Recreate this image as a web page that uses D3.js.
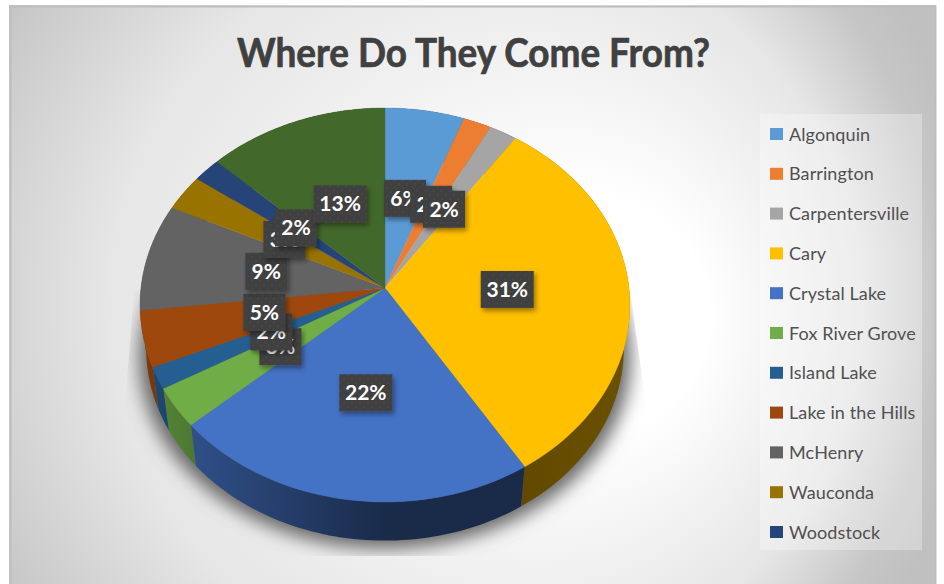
<!DOCTYPE html>
<html><head><meta charset="utf-8">
<script src="https://cdnjs.cloudflare.com/ajax/libs/d3/7.8.5/d3.min.js"></script>
<style>html,body{margin:0;padding:0;background:#fff}svg{display:block}text{font-family:Lato,sans-serif}</style>
</head><body><svg id="c" width="944" height="584"></svg>
<script>
const titleText = "Where Do They Come From?";
const categories = ["Algonquin","Barrington","Carpentersville","Cary","Crystal Lake","Fox River Grove","Island Lake","Lake in the Hills","McHenry","Wauconda","Woodstock","Other"];
const shares = [5.7,2,2,31.4,22.4,3.3,1.8,4.6,8.8,3,2,13];
const colors = ["#5b9bd5","#ed7d31","#a5a5a5","#ffc000","#4472c4","#70ad47","#255e91","#9e480e","#636363","#997300","#264478","#43682b"];
const legendCount = 11;

const svg = d3.select("#c"), defs = svg.append("defs");
const bg = defs.append("radialGradient").attr("id","bg").attr("gradientUnits","userSpaceOnUse")
  .attr("cx",400).attr("cy",300).attr("r",580).attr("fx",640).attr("fy",320);
[[0,"#ffffff"],[.2,"#ffffff"],[.5,"#eeeeee"],[.65,"#e6e6e6"],[.88,"#c6c6c6"],[1,"#c0c0c0"]]
  .forEach(([o,c])=>bg.append("stop").attr("offset",o).attr("stop-color",c));
svg.append("rect").attr("x",9).attr("y",5).attr("width",927).attr("height",579).attr("fill","url(#bg)");
svg.append("path").attr("d","M10.5,584V6.5H935.5V584").attr("fill","none").attr("stroke","#bdbdbd").attr("stroke-width",2);

// perspective projection of the pie disc
const cx=385, cy=288, A=195.5, B=244, k=0.0863, S=0.975, D=44;
const project=(a,f=1)=>{const X=Math.sin(a),Y=Math.cos(a),w=1+k*Y;return [cx+f*B*X/w, cy-f*A*Y/w];};
const lower=([x,y])=>[cx+(x-cx)*S, cy+(y-cy)*S+D];

const pie=d3.pie().sort(null).value(d=>d)(shares);
const samples=(d)=>d3.range(0,61).map(i=>d.startAngle+(d.endAngle-d.startAngle)*i/60);
const line=d3.line();

// shadow
defs.append("filter").attr("id","blur").attr("x","-20%").attr("y","-20%").attr("width","140%").attr("height","140%")
  .append("feGaussianBlur").attr("stdDeviation",9);
defs.append("clipPath").attr("id","shClip").append("path")
  .attr("d","M134,290L124,420V556H660V430L646,405L630,290Z");
svg.append("g").attr("clip-path","url(#shClip)")
  .append("path").attr("filter","url(#blur)").attr("fill","#666666")
  .attr("d",line(d3.range(0,121).map(i=>{const [x,y]=lower(project(i/120*2*Math.PI));return [cx+(x-cx)*1.03,y+8];}))+"Z");

// side walls
const stopsX=[140,190,385,520,630], stopsM=[.8,.7,.38,.38,.42];
pie.forEach((d,i)=>{
  const g=defs.append("linearGradient").attr("id","s"+i).attr("gradientUnits","userSpaceOnUse")
    .attr("x1",140).attr("x2",630).attr("y1",0).attr("y2",0);
  stopsX.forEach((x,j)=>{const c=d3.rgb(colors[i]),m=stopsM[j];
    g.append("stop").attr("offset",(x-140)/490).attr("stop-color",d3.rgb(c.r*m,c.g*m,c.b*m));});
});
svg.append("g").selectAll("path").data(pie).join("path")
  .attr("fill",(d,i)=>`url(#s${i})`)
  .attr("d",d=>{const top=samples(d).map(a=>project(a));
    return line(top.concat(top.map(lower).reverse()))+"Z";});
// top face
svg.append("g").selectAll("path").data(pie).join("path")
  .attr("fill",(d,i)=>colors[i]).attr("stroke",(d,i)=>colors[i]).attr("stroke-width",.4)
  .attr("d",d=>line([[cx,cy]].concat(samples(d).map(a=>project(a))))+"Z");

// label pattern + shadow
const pat=defs.append("pattern").attr("id","dots").attr("patternUnits","userSpaceOnUse").attr("width",8).attr("height",8);
pat.append("rect").attr("width",8).attr("height",8).attr("fill","#404040");
pat.append("circle").attr("cx",2).attr("cy",2).attr("r",1).attr("fill","#484848");
pat.append("circle").attr("cx",6).attr("cy",6).attr("r",1).attr("fill","#484848");
defs.append("filter").attr("id","ds").attr("x","-30%").attr("y","-30%").attr("width","170%").attr("height","170%")
  .append("feDropShadow").attr("dx",2).attr("dy",3).attr("stdDeviation",2.5).attr("flood-color","#000").attr("flood-opacity",.4);
const fmt=d3.format(".0f");
const lab=svg.append("g").selectAll("g").data(pie).join("g")
  .attr("transform",d=>{const [x,y]=project((d.startAngle+d.endAngle)/2,.5);return `translate(${x},${y-1})`;});
lab.append("rect").each(function(d){const w=fmt(d.value).length>1?53:42;
    d3.select(this).attr("x",-w/2).attr("y",-18.5).attr("width",w).attr("height",37);})
  .attr("fill","url(#dots)").attr("filter","url(#ds)");
lab.append("text").attr("text-anchor","middle").attr("y",7.5).attr("fill","#fff")
  .attr("font-size",21).attr("font-weight",700).text(d=>fmt(d.value)+"%");

// title
svg.append("text").attr("x",237).attr("y",67)
  .attr("font-size",41).attr("font-weight",700).attr("fill","#404040")
  .attr("stroke","#404040").attr("stroke-width",.7)
  .attr("textLength",473).attr("lengthAdjust","spacingAndGlyphs").text(titleText);

// legend
const names=categories.slice(0,legendCount);
svg.append("rect").attr("x",760).attr("y",114).attr("width",162).attr("height",436).attr("fill","#fff").attr("fill-opacity",.3);
const ly=d3.scalePoint().domain(names).range([134,532]);
const lg=svg.append("g").selectAll("g").data(names).join("g").attr("transform",d=>`translate(0,${ly(d)})`);
lg.append("rect").attr("x",770).attr("y",-6).attr("width",13).attr("height",12).attr("fill",(d,i)=>colors[i]);
lg.append("text").attr("x",789).attr("y",6.5).attr("font-size",18).attr("fill","#505050").attr("letter-spacing",.1).text(d=>d);
</script></body></html>
